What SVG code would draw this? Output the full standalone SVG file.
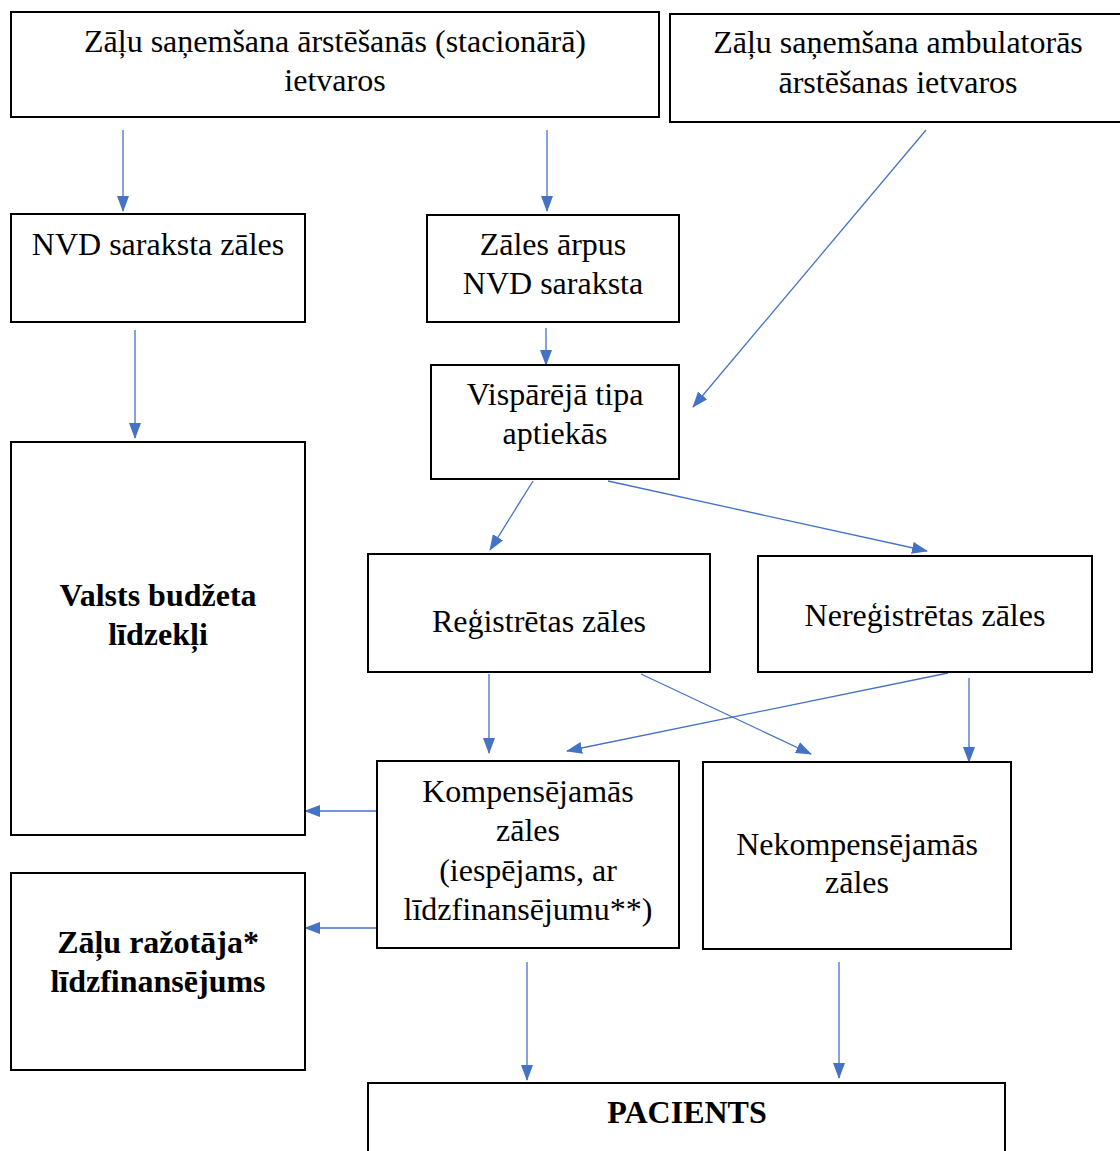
<svg xmlns="http://www.w3.org/2000/svg" width="1120" height="1151" viewBox="0 0 1120 1151">
<style>
.box{fill:#fff;stroke:#000;stroke-width:2}
.t{font-family:'Liberation Serif','Times New Roman',serif;font-size:32px;fill:#000;text-anchor:middle}
.b{font-weight:bold}
.c{stroke:#4472C4;stroke-width:1.3;fill:none;marker-end:url(#ah)}
</style>
<defs>
<marker id="ah" markerUnits="userSpaceOnUse" markerWidth="16" markerHeight="12" viewBox="0 0 16 12" refX="15" refY="6" orient="auto">
<path d="M0,0 L16,6 L0,12 z" fill="#4472C4"/>
</marker>
</defs>
<rect width="1120" height="1151" fill="#fff"/>
<g id="connectors">
<line class="c" x1="123" y1="130" x2="123" y2="211"/>
<line class="c" x1="547" y1="130" x2="547" y2="211"/>
<line class="c" x1="926" y1="130" x2="693" y2="407"/>
<line class="c" x1="135" y1="330" x2="135" y2="438"/>
<line class="c" x1="546" y1="328" x2="546" y2="365"/>
<line class="c" x1="533" y1="481" x2="490" y2="550"/>
<line class="c" x1="608" y1="481" x2="927" y2="551"/>
<line class="c" x1="489" y1="674" x2="489" y2="753"/>
<line class="c" x1="641" y1="674" x2="811" y2="754"/>
<line class="c" x1="948" y1="673" x2="567" y2="751"/>
<line class="c" x1="969" y1="678" x2="969" y2="762"/>
<line class="c" x1="377" y1="811" x2="305" y2="811"/>
<line class="c" x1="377" y1="928" x2="305" y2="928"/>
<line class="c" x1="527" y1="962" x2="527" y2="1080"/>
<line class="c" x1="839" y1="962" x2="839" y2="1078"/>
</g>
<g id="n1"><rect class="box" x="11" y="12" width="648" height="105"/>
<text class="t" x="335" y="52">Zāļu saņemšana ārstēšanās (stacionārā)</text>
<text class="t" x="335" y="91">ietvaros</text></g>
<g id="n2"><rect class="box" x="670" y="14" width="452" height="108"/>
<text class="t" x="898" y="53">Zāļu saņemšana ambulatorās</text>
<text class="t" x="898" y="93">ārstēšanas ietvaros</text></g>
<g id="n3"><rect class="box" x="11" y="214" width="294" height="108"/>
<text class="t" x="158" y="255">NVD saraksta zāles</text></g>
<g id="n4"><rect class="box" x="427" y="215" width="252" height="107"/>
<text class="t" x="553" y="255">Zāles ārpus</text>
<text class="t" x="553" y="294">NVD saraksta</text></g>
<g id="n5"><rect class="box" x="431" y="365" width="248" height="114"/>
<text class="t" x="555" y="405">Vispārējā tipa</text>
<text class="t" x="555" y="444">aptiekās</text></g>
<g id="n6"><rect class="box" x="11" y="442" width="294" height="393"/>
<text class="t b" x="158" y="606">Valsts budžeta</text>
<text class="t b" x="158" y="645">līdzekļi</text></g>
<g id="n7"><rect class="box" x="368" y="554" width="342" height="118"/>
<text class="t" x="539" y="632">Reģistrētas zāles</text></g>
<g id="n8"><rect class="box" x="758" y="556" width="334" height="116"/>
<text class="t" x="925" y="626">Nereģistrētas zāles</text></g>
<g id="n9"><rect class="box" x="377" y="761" width="302" height="187"/>
<text class="t" x="528" y="802">Kompensējamās</text>
<text class="t" x="528" y="841">zāles</text>
<text class="t" x="528" y="881">(iespējams, ar</text>
<text class="t" x="528" y="920">līdzfinansējumu**)</text></g>
<g id="n10"><rect class="box" x="703" y="762" width="308" height="187"/>
<text class="t" x="857" y="855">Nekompensējamās</text>
<text class="t" x="857" y="893">zāles</text></g>
<g id="n11"><rect class="box" x="11" y="873" width="294" height="197"/>
<text class="t b" x="158" y="953">Zāļu ražotāja*</text>
<text class="t b" x="158" y="992">līdzfinansējums</text></g>
<g id="n12"><rect class="box" x="368" y="1083" width="637" height="80"/>
<text class="t b" x="687" y="1123">PACIENTS</text></g>
</svg>
